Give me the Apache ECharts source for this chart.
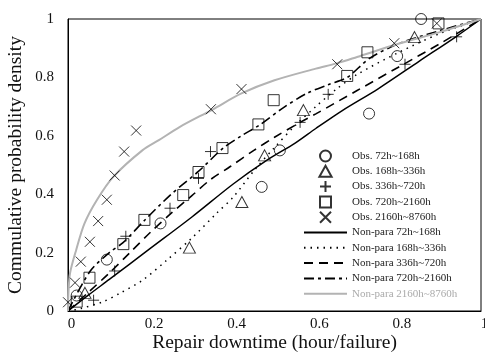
<!DOCTYPE html>
<html>
<head>
<meta charset="utf-8">
<script src="https://cdn.jsdelivr.net/npm/echarts@6/dist/echarts.min.js"></script>
<style>
html,body{margin:0;padding:0;background:#fff;}
#chart{width:485px;height:356px;}
</style>
</head>
<body>
<div id="chart"></div>
<script>
// ---- data (x = repair downtime, y = cumulative probability) ----
const xRange = [0, 1];
const yRange = [0, 1];
const tickStep = 0.2;

const obs72_168 = [[0.021,0.053],[0.094,0.176],[0.224,0.300],[0.469,0.425],[0.513,0.550],[0.729,0.676],[0.797,0.873],[0.855,1.0]];
const obs168_336 = [[0.041,0.062],[0.294,0.217],[0.421,0.373],[0.476,0.533],[0.570,0.688],[0.839,0.938]];
const obs336_720 = [[0.062,0.037],[0.113,0.137],[0.140,0.256],[0.247,0.352],[0.316,0.454],[0.345,0.546],[0.562,0.646],[0.630,0.742],[0.816,0.845],[0.941,0.939]];
const obs720_2160 = [[0.021,0.032],[0.052,0.114],[0.134,0.229],[0.185,0.312],[0.279,0.397],[0.316,0.476],[0.374,0.558],[0.461,0.639],[0.498,0.722],[0.676,0.805],[0.725,0.886],[0.897,0.985]];
const obs2160_8760 = [[0.0,0.03],[0.017,0.097],[0.031,0.169],[0.053,0.237],[0.073,0.308],[0.094,0.381],[0.113,0.464],[0.136,0.546],[0.165,0.618],[0.346,0.691],[0.420,0.760],[0.652,0.845],[0.790,0.917],[0.893,0.985]];

const np72_168 = [[0,0],[0.05,0.055],[0.1,0.108],[0.2,0.215],[0.3,0.322],[0.4,0.435],[0.48,0.515],[0.55,0.575],[0.6,0.625],[0.666,0.688],[0.75,0.76],[0.85,0.855],[0.94,0.94],[1,1]];
const np168_336 = [[0,0],[0.03,0.008],[0.085,0.032],[0.126,0.061],[0.18,0.105],[0.24,0.175],[0.3,0.25],[0.36,0.335],[0.4,0.39],[0.45,0.48],[0.5,0.56],[0.55,0.635],[0.6,0.70],[0.65,0.76],[0.7,0.81],[0.8,0.885],[0.9,0.95],[1,1]];
const np336_720 = [[0,0],[0.05,0.065],[0.1,0.13],[0.15,0.2],[0.2,0.27],[0.25,0.335],[0.3,0.395],[0.344,0.449],[0.392,0.494],[0.45,0.55],[0.5,0.595],[0.562,0.646],[0.6,0.675],[0.7,0.755],[0.8,0.835],[0.9,0.915],[1,1]];
const np720_2160 = [[0,0],[0.053,0.135],[0.1,0.2],[0.134,0.235],[0.185,0.31],[0.25,0.40],[0.315,0.477],[0.375,0.557],[0.42,0.60],[0.465,0.638],[0.52,0.695],[0.578,0.745],[0.63,0.775],[0.676,0.80],[0.73,0.865],[0.8,0.915],[0.9,0.96],[1,1]];
const np2160_8760 = [[0,0],[0.001,0.06],[0.005,0.13],[0.02,0.21],[0.04,0.30],[0.07,0.38],[0.11,0.46],[0.18,0.55],[0.22,0.585],[0.27,0.63],[0.35,0.69],[0.42,0.745],[0.5,0.79],[0.6,0.83],[0.65,0.848],[0.7,0.87],[0.8,0.915],[0.9,0.955],[1,1]];

const obsNames = ['Obs. 72h~168h','Obs. 168h~336h','Obs. 336h~720h','Obs. 720h~2160h','Obs. 2160h~8760h'];
const npNames = ['Non-para 72h~168h','Non-para 168h~336h','Non-para 336h~720h','Non-para 720h~2160h','Non-para 2160h~8760h'];

// ---- chart ----
const FONT = 'Liberation Serif';
const chart = echarts.init(document.getElementById('chart'), null, {renderer:'canvas'});
const hollow = {color:'rgba(0,0,0,0)', borderColor:'#000', borderWidth:1};
const CIRCLE = 'circle';
const TRI = 'path://M5,0L10,9L0,9Z';
const PLUS = 'path://M5,0L5,10M0,5L10,5';
const RECT = 'path://M0,0L10,0L10,10L0,10Z';
const CROSS = 'path://M0,0L10,10M10,0L0,10';
const obsSymbols = [CIRCLE, TRI, PLUS, RECT, CROSS];
const obsSizes = [11, [12,11], 11, 11, 10];
const obsData = [obs72_168, obs168_336, obs336_720, obs720_2160, obs2160_8760];

function scatter(i){
  return {name:obsNames[i], type:'scatter', data:obsData[i], symbol:obsSymbols[i], symbolSize:obsSizes[i],
    itemStyle:hollow, z:5, silent:true};
}
function line(name, data, color, width, type){
  return {name, type:'line', data, symbol:'none', smooth:0.3, lineStyle:{color, width, type},
    itemStyle:{color:'rgba(0,0,0,0)', borderWidth:0}, z:3, silent:true};
}

const legendData = obsNames.map((n,i)=>({name:n, icon:obsSymbols[i]}))
  .concat(npNames.map((n,i)=> i===4 ? {name:n, textStyle:{color:'#aaa'}} : {name:n}));

const option = {
  animation:false,
  grid:{left:68, top:19, right:4, bottom:45, show:true, borderColor:'#000', borderWidth:1, outerBoundsMode:'none', containLabel:false},
  xAxis:{type:'value', min:xRange[0], max:xRange[1], interval:tickStep,
    name:'Repair downtime (hour/failure)', nameLocation:'middle', nameGap:22, nameMoveOverlap:false,
    nameTextStyle:{fontFamily:FONT, fontSize:19.5, color:'#111'},
    axisLine:{show:true, lineStyle:{color:'#000', width:1}}, axisTick:{show:false}, splitLine:{show:false},
    axisLabel:{fontFamily:FONT, fontSize:15, color:'#111', margin:6, padding:[0,0,0,7]}},
  yAxis:{type:'value', min:yRange[0], max:yRange[1], interval:tickStep,
    name:'Commulative probability density', nameLocation:'middle', nameGap:42, nameRotate:90, nameMoveOverlap:false,
    nameTextStyle:{fontFamily:FONT, fontSize:19.5, color:'#111'},
    axisLine:{show:true, lineStyle:{color:'#000', width:1}}, axisTick:{show:false}, splitLine:{show:false},
    axisLabel:{fontFamily:FONT, fontSize:15, color:'#111', margin:14, padding:[0,0,8,0]}},
  legend:{orient:'vertical', left:303, top:149.5, padding:0, itemWidth:43, itemHeight:11, itemGap:2.3,
    textStyle:{fontFamily:FONT, fontSize:11, color:'#222', lineHeight:13},
    data:legendData},
  series:[
    scatter(0), scatter(1), scatter(2), scatter(3), scatter(4),
    line(npNames[0], np72_168, '#000', 1.5, 'solid'),
    line(npNames[1], np168_336, '#000', 1.5, [1.5,5]),
    line(npNames[2], np336_720, '#000', 1.6, [9,6]),
    line(npNames[3], np720_2160, '#000', 1.6, [10,4,3,4]),
    line(npNames[4], np2160_8760, '#b3b3b3', 2, 'solid')
  ]
};
chart.setOption(option);
</script>
</body>
</html>
